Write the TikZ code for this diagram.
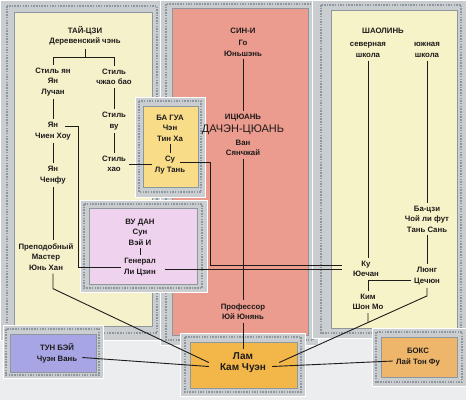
\documentclass[tikz,border=0pt]{standalone}
\usepackage{fontspec}
\setmainfont{Liberation Sans}
\usetikzlibrary{calc}
\definecolor{ink}{HTML}{1E1B1B}
\definecolor{keygray}{HTML}{CACED1}
\definecolor{keyline}{HTML}{8E979D}
\definecolor{ground}{HTML}{ECEDEE}
\definecolor{taicream}{HTML}{F4F1CB}
\definecolor{salmon}{HTML}{EB9C8E}
\definecolor{shaocream}{HTML}{F6F3C8}
\definecolor{baguayel}{HTML}{F8DC88}
\definecolor{wudanpink}{HTML}{EFD3EE}
\definecolor{tunblue}{HTML}{A7A5E4}
\definecolor{lamorange}{HTML}{F3B649}
\definecolor{boksorange}{HTML}{EDB66A}

\begin{document}
\begin{tikzpicture}[x=1pt,y=-1pt,
  lbl/.style={align=center,inner sep=3pt,text=ink,font=\bfseries\fontsize{7.8}{10.5}\selectfont},
  frame/.style={fill=keygray,draw=white,line width=.6pt},
  meander/.style={draw=keyline,line width=1.4pt,dash pattern=on 1.5pt off 1.2pt},
  inner/.style={draw=keyline,line width=.4pt},
  wire/.style={draw=ink,line width=.9pt}]
\fill[ground] (0,0) rectangle (466,400);
\useasboundingbox (0,0) rectangle (466,400);
% tai-tszi panel
\draw[frame] (0,0) rectangle (163,340);
\draw[meander] (7,6) rectangle (157,333);
\draw[inner,fill=taicream] (14,12) rectangle (152,326);
% sin-i panel
\draw[frame] (160,0) rectangle (318,345);
\draw[meander] (166,4) rectangle (313,340);
\draw[inner,fill=salmon] (172,8) rectangle (308,335);
% shaolin panel
\draw[frame] (312,0) rectangle (466,338);
\draw[meander] (321,5) rectangle (461,333);
\draw[inner,fill=shaocream] (331,10) rectangle (457,328);
% ba gua
\draw[frame] (135,97) rectangle (205,197);
\draw[meander] (139,101) rectangle (201,192);
\draw[inner,fill=baguayel] (143,106) rectangle (198,187);
% wu dan
\draw[frame] (80,200) rectangle (207,292);
\draw[meander] (84,204) rectangle (202,288);
\draw[inner,fill=wudanpink] (89,208) rectangle (197,284);
% tun bei
\draw[frame] (3,325) rectangle (103,378);
\draw[meander] (6,329) rectangle (99,375);
\draw[inner,fill=tunblue] (10,334) rectangle (96,372);
% lam
\draw[frame] (180,333) rectangle (305,396);
\draw[meander] (185,337) rectangle (301,392);
\draw[inner,fill=lamorange] (190,342) rectangle (297,388);
% boks
\draw[frame] (372,328) rectangle (466,386);
\draw[meander] (376,332) rectangle (462,382);
\draw[inner,fill=boksorange] (381,337) rectangle (457,377);

% names, left
\node[lbl] (taiji) at (85,36) {ТАЙ-ЦЗИ\\Деревенский чэнь};
\node[lbl] (yan) at (53,82) {Стиль ян\\Ян\\Лучан};
\node[lbl] (chzhao) at (114,77) {Стиль\\чжао бао};
\node[lbl] (vu) at (114,121) {Стиль\\ву};
\node[lbl] (hao) at (114,164) {Стиль\\хао};
\node[lbl] (chienhou) at (53,131) {Ян\\Чиен Хоу};
\node[lbl] (chenfu) at (53,175) {Ян\\Ченфу};
\node[lbl] (yunhan) at (46,257) {Преподобный\\Мастер\\Юнь Хан};
\node[lbl] (bagua) at (170,128) {БА ГУА\\Чэн\\Тин Ха};
\node[lbl] (su) at (170,165) {Су\\Лу Тань};
\node[lbl] (wudan) at (140,232) {ВУ ДАН\\Сун\\Вэй И};
\node[lbl] (general) at (140,267) {Генерал\\Ли Цзин};
\node[lbl] (tunbei) at (57,353.5) {ТУН БЭЙ\\Чуэн Вань};
% names, centre
\node[lbl] (sini) at (243,42) {СИН-И\\[2pt]Го\\Юньшэнь};
\node[lbl] (dachen) at (243,135) {ИЦЮАНЬ\\[2.5pt]{\mdseries\fontsize{11}{13}\selectfont ДАЧЭН-ЦЮАНЬ}\\[2.5pt]Ван\\Сянчжай};
\node[lbl] (yuy) at (243,311.5) {Профессор\\Юй Юнянь};
\node[lbl,font=\bfseries\fontsize{10}{11.5}\selectfont] (lam) at (243,362.5) {Лам\\Кам Чуэн};
% names, right
\node[lbl] (shaolin) at (383,31) {ШАОЛИНЬ};
\node[lbl] (sev) at (368,50) {северная\\школа};
\node[lbl] (yuzh) at (427,50) {южная\\школа};
\node[lbl] (ku) at (366,269) {Ку\\Юечан};
\node[lbl] (bazi) at (427,219) {Ба-цзи\\Чой ли фут\\Тань Сань};
\node[lbl] (lyung) at (427,276) {Люнг\\Цечюн};
\node[lbl] (kim) at (368,302) {Ким\\Шон Мо};
\node[lbl] (boks) at (418,357) {БОКС\\Лай Тон Фу};

% tai-tszi lines
\draw[wire] (taiji.south) -- ++(0,9) coordinate (tjfork);
\draw[wire] (yan.north) |- (tjfork) -| (chzhao.north);
\draw[wire] (yan.south) -- (chienhou.north);
\draw[wire] (chienhou.south) -- (chenfu.north);
\draw[wire] (chenfu.south) -- (chenfu.south |- yunhan.north);
\draw[wire] (chzhao.south) -- (vu.north);
\draw[wire] (vu.south) -- (hao.north);
\draw[wire] (hao.east) -- (hao.east -| su.west);
\draw[wire] ($(chienhou.center)+(12,-5)$) -- ++(13,0) |- (general.west);
\draw[wire] (yunhan.south -| chenfu.south) -- ++(0,15) -- ($(lam.west)+(-8,0)$);
% ba gua, wu dan
\draw[wire] (bagua.south) -- (su.north);
\draw[wire] (wudan.south) -- (general.north);
\draw[wire] ($(su.center)+(10,-3)$) -- ++(30,0) |- ($(ku.west)+(-8,-4)$);
\draw[wire] ($(general.east)+(6,2)$) -- ($(ku.west)+(-8,0)$);
% sin-i line
\draw[wire] (sini.south) -- (dachen.north);
\draw[wire] (dachen.south) -- (yuy.north);
\draw[wire] (yuy.south) -- (lam.north);
% shaolin lines
\draw[wire] (sev.south) -- (sev.south |- ku.north);
\draw[wire] (yuzh.south) -- (bazi.north);
\draw[wire] (bazi.south) -- (lyung.north);
\draw[wire] ($(lyung.west)+(0,4)$) -| (kim.north);
\draw[wire] (lyung.south) -- ++(0,8) coordinate (lyfoot) -- ($(lam.east)+(10,0)$) coordinate (lamR);
\draw[wire] (kim.south) -- (intersection of kim.south--kim.north and lyfoot--lamR);
% boks, tun bei
\draw[wire] ($(boks.west)+(0,4)$) -- ($(lam.east)+(3,4)$);
\draw[wire] ($(tunbei.east)+(2,4)$) -- ($(lam.west)+(-8,4)$);
\end{tikzpicture}
\end{document}
